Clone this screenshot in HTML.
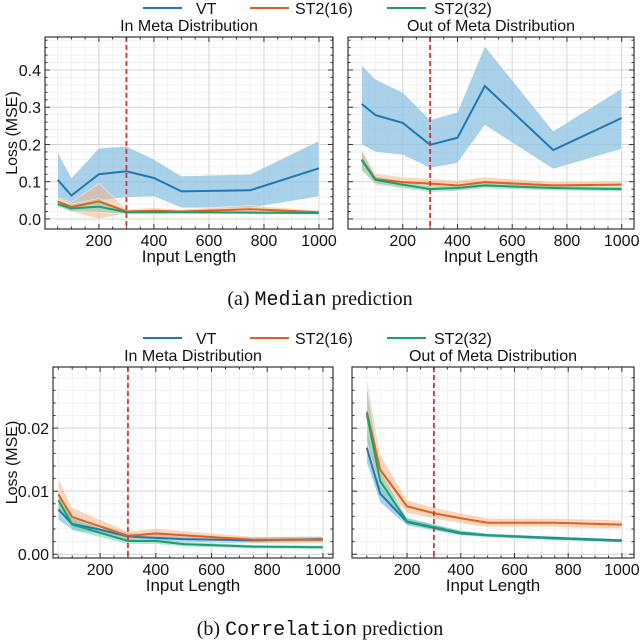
<!DOCTYPE html>
<html><head><meta charset="utf-8">
<style>
body{margin:0;background:#fff;width:640px;height:642px;overflow:hidden;font-family:"Liberation Sans",sans-serif}
svg{position:absolute;left:0;top:0}
</style></head>
<body>
<svg id="fig" width="640" height="642" xmlns="http://www.w3.org/2000/svg"></svg>
<script>
const xs = [50,100,200,300,400,500,750,1000];
const seriesNames = ["VT","ST2(16)","ST2(32)"];
const colors = ["#1f77b4","#e0611a","#1a9e77"];
const bandColors = ["#8ec1e3","#f4b48a","#7fcfb3"];
// Median, in-meta
const medInVT = [0.105,0.063,0.12,0.128,0.11,0.074,0.077,0.136];
const medInVTlo = [0.055,0.04,0.05,0.058,0.06,0.03,0.03,0.06];
const medInVThi = [0.18,0.11,0.19,0.195,0.16,0.115,0.12,0.21];
const medIn16 = [0.047,0.032,0.047,0.02,0.022,0.02,0.026,0.018];
const medIn16lo = [0.035,0.02,0.0,0.015,0.015,0.015,0.016,0.013];
const medIn16hi = [0.057,0.045,0.095,0.026,0.03,0.026,0.036,0.023];
const medIn32 = [0.04,0.028,0.033,0.018,0.018,0.018,0.017,0.016];
const medIn32lo = [0.032,0.02,0.018,0.013,0.013,0.014,0.013,0.012];
const medIn32hi = [0.05,0.04,0.055,0.024,0.024,0.023,0.022,0.02];
// Median, out-of-meta
const medOutVT = [0.309,0.279,0.258,0.199,0.218,0.357,0.185,0.271];
const medOutVTlo = [0.2,0.18,0.172,0.137,0.15,0.252,0.134,0.188];
const medOutVThi = [0.413,0.375,0.34,0.266,0.287,0.464,0.236,0.35];
const medOut16 = [0.16,0.107,0.099,0.095,0.09,0.099,0.09,0.092];
const medOut16lo = [0.13,0.09,0.085,0.082,0.078,0.086,0.08,0.082];
const medOut16hi = [0.19,0.122,0.112,0.108,0.103,0.112,0.1,0.102];
const medOut32 = [0.158,0.105,0.092,0.08,0.083,0.09,0.083,0.08];
const medOut32lo = [0.13,0.095,0.082,0.072,0.075,0.082,0.076,0.073];
const medOut32hi = [0.185,0.115,0.102,0.088,0.091,0.098,0.09,0.087];
// Correlation, in-meta
const corInVT = [0.0071,0.0048,0.0039,0.0028,0.0026,0.0024,0.0022,0.0024];
const corInVTlo = [0.0055,0.0038,0.0032,0.0022,0.002,0.0019,0.0017,0.0019];
const corInVThi = [0.0088,0.0058,0.0047,0.0034,0.0032,0.0029,0.0027,0.0029];
const corIn16 = [0.0095,0.0059,0.0044,0.0029,0.0033,0.003,0.0023,0.0023];
const corIn16lo = [0.0072,0.0046,0.0034,0.0022,0.0025,0.0023,0.0018,0.0018];
const corIn16hi = [0.012,0.0074,0.0055,0.0036,0.0041,0.0037,0.0028,0.0028];
const corIn32 = [0.0086,0.0047,0.0034,0.0021,0.0021,0.0016,0.0012,0.0011];
const corIn32lo = [0.007,0.0038,0.0027,0.0016,0.0016,0.0012,0.0009,0.0008];
const corIn32hi = [0.0102,0.0057,0.0042,0.0026,0.0026,0.002,0.0015,0.0014];
// Correlation, out-of-meta
const corOutVT = [0.0169,0.0096,0.0051,0.0042,0.0033,0.003,0.0026,0.0022];
const corOutVTlo = [0.0145,0.0082,0.0045,0.0037,0.0029,0.0027,0.0023,0.002];
const corOutVThi = [0.0195,0.011,0.0057,0.0047,0.0037,0.0033,0.0029,0.0024];
const corOut16 = [0.0226,0.0134,0.0076,0.0065,0.0057,0.005,0.005,0.0047];
const corOut16lo = [0.017,0.011,0.0066,0.0056,0.0049,0.0043,0.0043,0.004];
const corOut16hi = [0.028,0.0158,0.0086,0.0074,0.0065,0.0057,0.0057,0.0054];
const corOut32 = [0.0223,0.0116,0.0052,0.0043,0.0034,0.003,0.0025,0.0021];
const corOut32lo = [0.018,0.0098,0.0046,0.0038,0.003,0.0027,0.0022,0.0019];
const corOut32hi = [0.027,0.0134,0.0058,0.0048,0.0038,0.0033,0.0028,0.0023];
const xTicks = [200,400,600,800,1000];
const yTicksTop = [0,0.1,0.2,0.3,0.4];
const yTicksBot = [0,0.01,0.02];

const NS="http://www.w3.org/2000/svg";
const fig=document.getElementById('fig');
function mk(tag,attrs,parent){const e=document.createElementNS(NS,tag);for(const k in attrs)e.setAttribute(k,attrs[k]);(parent||fig).appendChild(e);return e;}
function txt(s,attrs){const e=mk('text',attrs);e.textContent=s;return e;}

function panel(o){
  const g=mk('g',{});
  
  
  const X=v=>o.L+(v-o.xmin)/(o.xmax-o.xmin)*(o.R-o.L);
  const Y=v=>o.B-(v-o.ymin)/(o.ymax-o.ymin)*(o.B-o.T);
  for(let v=50;v<=o.xmax;v+=50){if(v%200===0)continue;const x=X(v);mk('line',{x1:x,x2:x,y1:o.T,y2:o.B,stroke:'#eeeeee','stroke-width':0.8},g);}
  const ys=o.yminor;
  for(let v=0;v<=o.ymax+1e-9;v+=ys){const y=Y(v);mk('line',{x1:o.L,x2:o.R,y1:y,y2:y,stroke:'#eeeeee','stroke-width':0.8},g);}
  xTicks.forEach(v=>{const x=X(v);mk('line',{x1:x,x2:x,y1:o.T,y2:o.B,stroke:'#d6d6d6','stroke-width':1},g);});
  o.yticks.forEach(v=>{const y=Y(v);mk('line',{x1:o.L,x2:o.R,y1:y,y2:y,stroke:'#d6d6d6','stroke-width':1},g);});
  o.series.forEach((s,i)=>{
    let d='';xs.forEach((x,j)=>{d+=(j?'L':'M')+X(x)+','+Y(s.hi[j]);});
    for(let j=xs.length-1;j>=0;j--)d+='L'+X(xs[j])+','+Y(s.lo[j]);
    const b=mk('path',{d:d+'Z',fill:bandColors[i],'fill-opacity':i===0?0.75:0.55,stroke:'#fff','stroke-width':0.6,'stroke-opacity':0.7},g);
    
    
  });
  o.series.forEach((s,i)=>{
    const pts=xs.map((x,j)=>X(x)+','+Y(s.m[j])).join(' ');
    const l=mk('polyline',{points:pts,fill:'none',stroke:colors[i],'stroke-width':2},g);
    
    
  });
  const rx=X(300);
  const rl=mk('line',{x1:rx,x2:rx,y1:o.T,y2:o.B,stroke:'#e03030','stroke-width':1.8,'stroke-dasharray':'5,3'},g);
  
  
  for(let v=50;v<=o.xmax;v+=50){const x=X(v);const len=v%200===0?5:2.5;
    mk('line',{x1:x,x2:x,y1:o.B,y2:o.B-len,stroke:'#333'},g);mk('line',{x1:x,x2:x,y1:o.T,y2:o.T+len,stroke:'#333'},g);}
  for(let v=0;v<=o.ymax+1e-9;v+=ys){const y=Y(v);const maj=o.yticks.some(t=>Math.abs(t-v)<1e-9);const len=maj?5:2.5;
    mk('line',{x1:o.L,x2:o.L+len,y1:y,y2:y,stroke:'#333'},g);mk('line',{x1:o.R,x2:o.R-len,y1:y,y2:y,stroke:'#333'},g);}
  const fr=mk('rect',{x:o.L,y:o.T,width:o.R-o.L,height:o.B-o.T,fill:'none',stroke:'#333','stroke-width':1.2},g);
  
  
  xTicks.forEach(v=>{const t=txt(String(v),{x:X(v),y:o.B+17,'font-size':16,'text-anchor':'middle',fill:'#111'});
    });
  if(o.showY){o.yticks.forEach(v=>{const t=txt(v.toFixed(o.dec),{x:o.L-4,y:Y(v)+6,'font-size':16,'text-anchor':'end',fill:'#111'});
    });
    const yl=txt('Loss (MSE)',{x:0,y:0,'font-size':16,'text-anchor':'middle',fill:'#111',transform:`translate(17,${(o.T+o.B)/2}) rotate(-90)`});
    }
  const xl=txt('Input Length',{x:(o.L+o.R)/2,y:o.B+33,'font-size':17,'text-anchor':'middle',fill:'#111'});
  
  const tt=txt(o.title,{x:(o.L+o.R)/2,y:o.T-6,'font-size':16,'text-anchor':'middle',fill:'#111'});
  
}
function legend(y){
  const lx=[143,250,387];
  const tx=[196,295,434];
  seriesNames.forEach((n,i)=>{
    const l=mk('line',{x1:lx[i],x2:lx[i]+39,y1:y,y2:y,stroke:colors[i],'stroke-width':2});
    
    const t=txt(n,{x:tx[i],y:y+6,'font-size':16,fill:'#111'});
    
  });
}
const topY={T:37,B:229,ymin:-0.027,ymax:0.4886,yticks:yTicksTop,yminor:0.02,dec:1};
const botY={T:367,B:558,ymin:-0.0006,ymax:0.0297,yticks:yTicksBot,yminor:0.002,dec:2};
legend(8);
panel(Object.assign({name:'median-in-meta',L:45,R:333,xmin:4,xmax:1051,showY:true,title:'In Meta Distribution',
 series:[{m:medInVT,lo:medInVTlo,hi:medInVThi},{m:medIn16,lo:medIn16lo,hi:medIn16hi},{m:medIn32,lo:medIn32lo,hi:medIn32hi}]},topY));
panel(Object.assign({name:'median-out-meta',L:348,R:634,xmin:0,xmax:1045,showY:false,title:'Out of Meta Distribution',
 series:[{m:medOutVT,lo:medOutVTlo,hi:medOutVThi},{m:medOut16,lo:medOut16lo,hi:medOut16hi},{m:medOut32,lo:medOut32lo,hi:medOut32hi}]},topY));
legend(338);
panel(Object.assign({name:'correlation-in-meta',L:53,R:333,xmin:31,xmax:1036,showY:true,title:'In Meta Distribution',
 series:[{m:corInVT,lo:corInVTlo,hi:corInVThi},{m:corIn16,lo:corIn16lo,hi:corIn16hi},{m:corIn32,lo:corIn32lo,hi:corIn32hi}]},botY));
panel(Object.assign({name:'correlation-out-meta',L:352,R:634,xmin:-5,xmax:1045,showY:false,title:'Out of Meta Distribution',
 series:[{m:corOutVT,lo:corOutVTlo,hi:corOutVThi},{m:corOut16,lo:corOut16lo,hi:corOut16hi},{m:corOut32,lo:corOut32lo,hi:corOut32hi}]},botY));
function caption(y,pre,mono,post,name){
  const t=mk('text',{x:320,y:y,'font-size':20,'text-anchor':'middle',fill:'#111','font-family':'"Liberation Serif",serif'});
  
  const a=mk('tspan',{},t);a.textContent=pre;
  const b=mk('tspan',{'font-family':'"Liberation Mono",monospace'},t);b.textContent=mono;
  const c=mk('tspan',{},t);c.textContent=post;
}
caption(305,'(a) ','Median',' prediction','caption-a');
caption(635,'(b) ','Correlation',' prediction','caption-b');
</script>
</body></html>
